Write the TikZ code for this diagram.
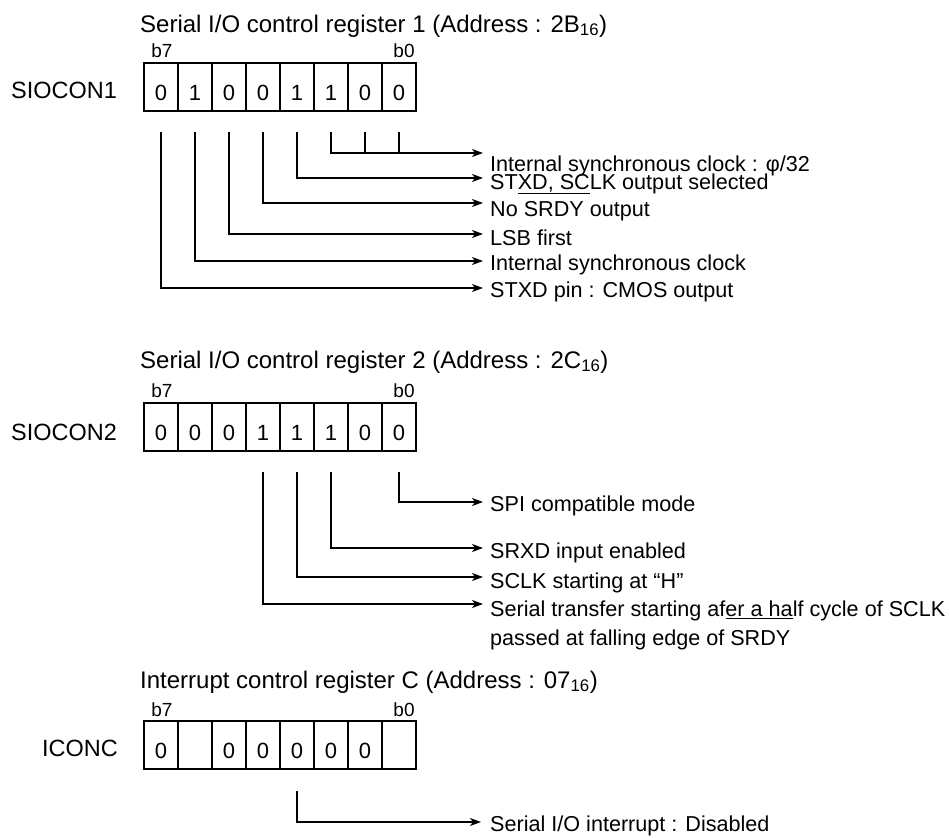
\documentclass[tikz,border=0pt]{standalone}
\usepackage{fontspec}
\setmainfont{Liberation Sans}
\usetikzlibrary{arrows.meta}

\begin{document}
\begin{tikzpicture}[x=1pt,y=-1pt,
  cell/.style={draw,line width=1.7pt,minimum width=34pt,minimum height=48pt,inner sep=0pt,text height=27pt,text depth=0pt,font=\fontsize{22}{24}\selectfont},
  regname/.style={font=\fontsize{23.5}{26}\selectfont},
  regtitle/.style={anchor=west,inner sep=0pt,font=\fontsize{24}{26}\selectfont},
  bitno/.style={inner sep=0pt,font=\fontsize{19}{21}\selectfont},
  lbl/.style={anchor=west,inner sep=0pt,font=\fontsize{21.6}{24}\selectfont},
  wire/.style={line width=1.3pt},
  feed/.style={line width=1.3pt,-{Stealth[length=11pt,width=8pt,inset=3pt]}}]
\path[use as bounding box] (0,0) rectangle (949,837);

% SIOCON1
\node[regtitle] (ta) at (140,26) {Serial I/O control register 1 (Address : 2B\textsubscript{16})};
\node[bitno] (ba7) at (162,51) {b7};
\node[bitno] (ba0) at (404,51) {b0};
\node[regname] (na) at (64,90) {SIOCON1};
\foreach \v [count=\i from 0] in {0,1,0,0,1,1,0,0}
  {\pgfmathtruncatemacro\b{7-\i}
   \node[cell] (ra\b) at (161+34*\i,87) {\v};}
\coordinate (ea0) at (483,153);
\coordinate (ea3) at (483,178);
\coordinate (ea4) at (483,203);
\coordinate (ea5) at (483,234);
\coordinate (ea6) at (483,261);
\coordinate (ea7) at (483,288);
\draw[wire] ([yshift=-20pt]ra0.south) -- (ra0.south |- ea0);
\draw[wire] ([yshift=-20pt]ra1.south) -- (ra1.south |- ea0);
\foreach \b in {2,3,4,5,6,7}
  {\pgfmathtruncatemacro\e{\b==2 ? 0 : \b}
   \draw[feed] ([yshift=-20pt]ra\b.south) |- (ea\e);}
\node[lbl] (la0) at (490,166) {Internal synchronous clock : φ/32};
\node[lbl] (la3) at (490,184) {ST\underline{XD, SC}LK output selected};
\node[lbl] (la4) at (490,211) {No SRDY output};
\node[lbl] (la5) at (490,238) {LSB first};
\node[lbl] (la6) at (490,265) {Internal synchronous clock};
\node[lbl] (la7) at (490,292) {STXD pin : CMOS output};

% SIOCON2
\node[regtitle] (tb) at (140,362) {Serial I/O control register 2 (Address : 2C\textsubscript{16})};
\node[bitno] (bb7) at (162,391) {b7};
\node[bitno] (bb0) at (404,391) {b0};
\node[regname] (nb) at (64,432) {SIOCON2};
\foreach \v [count=\i from 0] in {0,0,0,1,1,1,0,0}
  {\pgfmathtruncatemacro\b{7-\i}
   \node[cell] (rb\b) at (161+34*\i,427) {\v};}
\coordinate (eb0) at (483,502);
\coordinate (eb2) at (483,548);
\coordinate (eb3) at (483,577);
\coordinate (eb4) at (483,604);
\foreach \b in {0,2,3,4}
  \draw[feed] ([yshift=-20pt]rb\b.south) |- (eb\b);
\node[lbl] (lb0) at (490,506) {SPI compatible mode};
\node[lbl] (lb2) at (490,553) {SRXD input enabled};
\node[lbl] (lb3) at (490,583) {SCLK starting at “H”};
\node[lbl] (lb4) at (490,611) {Serial transfer starting af\underline{er a ha}lf cycle of SCLK};
\node[lbl] (lb5) at (490,640) {passed at falling edge of SRDY};

% ICONC
\node[regtitle] (tc) at (140,682) {Interrupt control register C (Address : 07\textsubscript{16})};
\node[bitno] (bc7) at (162,710) {b7};
\node[bitno] (bc0) at (404,710) {b0};
\node[regname] (nc) at (80,748) {ICONC};
\foreach \v [count=\i from 0] in {0,{},0,0,0,0,0,{}}
  {\pgfmathtruncatemacro\b{7-\i}
   \node[cell] (rc\b) at (161+34*\i,745) {\v};}
\coordinate (ec3) at (481,822);
\draw[feed] ([yshift=-21pt]rc3.south) |- (ec3);
\node[lbl] (lc3) at (490,826) {Serial I/O interrupt : Disabled};
\end{tikzpicture}
\end{document}
